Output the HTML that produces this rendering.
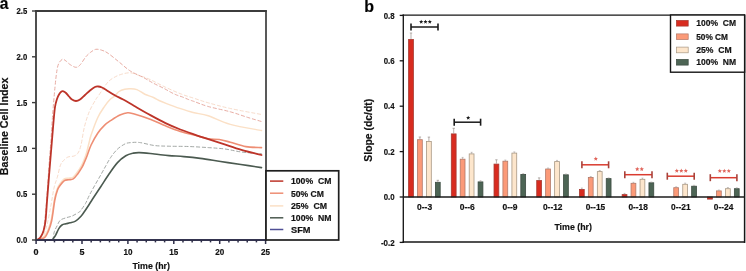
<!DOCTYPE html>
<html><head><meta charset="utf-8"><style>
html,body{margin:0;padding:0;background:#fff;}
body{width:746px;height:271px;overflow:hidden;}
svg{display:block;font-family:"Liberation Sans", sans-serif;will-change:transform;}
text{stroke:#111;stroke-width:0.18px;paint-order:stroke;}
</style></head><body>
<svg width="746" height="271" viewBox="0 0 746 271">
<rect width="746" height="271" fill="#fff"/>
<path d="M42.00,240.00 C42.83,237.50 45.50,230.83 47.00,225.00 C48.50,219.17 49.83,211.17 51.00,205.00 C52.17,198.83 52.93,192.68 54.00,188.00 C55.07,183.32 56.32,180.73 57.40,176.90 C58.48,173.07 59.43,167.77 60.50,165.00 C61.57,162.23 62.55,161.63 63.80,160.30 C65.05,158.97 66.30,157.72 68.00,157.00 C69.70,156.28 72.33,156.67 74.00,156.00 C75.67,155.33 76.83,154.83 78.00,153.00 C79.17,151.17 79.93,149.33 81.00,145.00 C82.07,140.67 83.02,132.57 84.40,127.00 C85.78,121.43 87.45,116.10 89.30,111.60 C91.15,107.10 94.02,102.58 95.50,100.00 C96.98,97.42 96.95,97.93 98.20,96.10 C99.45,94.27 101.37,91.35 103.00,89.00 C104.63,86.65 106.17,83.92 108.00,82.00 C109.83,80.08 111.77,78.78 114.00,77.50 C116.23,76.22 118.68,75.08 121.40,74.30 C124.12,73.52 127.37,72.62 130.30,72.80 C133.23,72.98 135.72,74.28 139.00,75.40 C142.28,76.52 145.67,77.57 150.00,79.50 C154.33,81.43 159.77,84.57 165.00,87.00 C170.23,89.43 176.50,92.20 181.40,94.10 C186.30,96.00 189.93,96.95 194.40,98.40 C198.87,99.85 202.22,101.12 208.20,102.80 C214.18,104.48 221.42,106.55 230.30,108.50 C239.18,110.45 256.30,113.50 261.50,114.50" fill="none" stroke="#f8dccb" stroke-width="1.00" stroke-linejoin="round" stroke-linecap="round" stroke-dasharray="3.2,2.6" />
<path d="M40.00,240.00 C40.50,238.67 42.17,235.67 43.00,232.00 C43.83,228.33 44.33,224.17 45.00,218.00 C45.67,211.83 46.27,204.67 47.00,195.00 C47.73,185.33 48.73,169.17 49.40,160.00 C50.07,150.83 50.47,147.50 51.00,140.00 C51.53,132.50 51.93,123.83 52.60,115.00 C53.27,106.17 54.27,94.50 55.00,87.00 C55.73,79.50 56.33,74.00 57.00,70.00 C57.67,66.00 58.08,64.78 59.00,63.00 C59.92,61.22 61.33,59.63 62.50,59.30 C63.67,58.97 64.75,60.13 66.00,61.00 C67.25,61.87 68.37,63.45 70.00,64.50 C71.63,65.55 74.13,67.22 75.80,67.30 C77.47,67.38 78.30,66.78 80.00,65.00 C81.70,63.22 84.17,58.77 86.00,56.60 C87.83,54.43 89.33,53.22 91.00,52.00 C92.67,50.78 94.17,49.58 96.00,49.30 C97.83,49.02 99.98,49.63 102.00,50.30 C104.02,50.97 105.23,51.33 108.10,53.30 C110.97,55.27 115.50,59.15 119.20,62.10 C122.90,65.05 126.23,68.42 130.30,71.00 C134.37,73.58 139.82,75.60 143.60,77.60 C147.38,79.60 149.55,81.17 153.00,83.00 C156.45,84.83 161.32,87.05 164.30,88.60 C167.28,90.15 168.85,91.23 170.90,92.30 C172.95,93.37 174.72,94.23 176.60,95.00 C178.48,95.77 180.18,96.13 182.20,96.90 C184.22,97.67 186.67,98.82 188.70,99.60 C190.73,100.38 191.15,100.45 194.40,101.60 C197.65,102.75 202.22,104.80 208.20,106.50 C214.18,108.20 223.67,109.97 230.30,111.80 C236.93,113.63 242.80,115.88 248.00,117.50 C253.20,119.12 259.25,120.83 261.50,121.50" fill="none" stroke="#e8aca3" stroke-width="1.00" stroke-linejoin="round" stroke-linecap="round" stroke-dasharray="3.2,2.6" />
<path d="M53.00,240.00 C53.20,238.70 53.53,234.53 54.20,232.20 C54.87,229.87 56.00,227.98 57.00,226.00 C58.00,224.02 58.70,221.67 60.20,220.30 C61.70,218.93 64.00,218.52 66.00,217.80 C68.00,217.08 70.07,216.92 72.20,216.00 C74.33,215.08 77.45,213.13 78.80,212.30 C80.15,211.47 79.18,212.47 80.30,211.00 C81.42,209.53 83.97,206.17 85.50,203.50 C87.03,200.83 87.92,198.08 89.50,195.00 C91.08,191.92 93.08,188.42 95.00,185.00 C96.92,181.58 99.17,177.75 101.00,174.50 C102.83,171.25 104.33,168.42 106.00,165.50 C107.67,162.58 109.10,159.72 111.00,157.00 C112.90,154.28 115.10,151.37 117.40,149.20 C119.70,147.03 122.70,145.08 124.80,144.00 C126.90,142.92 127.55,142.95 130.00,142.70 C132.45,142.45 135.45,142.03 139.50,142.50 C143.55,142.97 149.38,144.88 154.30,145.50 C159.22,146.12 163.35,146.03 169.00,146.20 C174.65,146.37 181.67,146.27 188.20,146.50 C194.73,146.73 202.07,147.18 208.20,147.60 C214.33,148.02 219.47,148.27 225.00,149.00 C230.53,149.73 235.32,151.20 241.40,152.00 C247.48,152.80 258.15,153.50 261.50,153.80" fill="none" stroke="#a3a8a5" stroke-width="1.00" stroke-linejoin="round" stroke-linecap="round" stroke-dasharray="3.2,2.6" />
<path d="M37.00,240.00 C37.67,239.75 39.75,239.17 41.00,238.50 C42.25,237.83 43.33,237.42 44.50,236.00 C45.67,234.58 46.87,232.75 48.00,230.00 C49.13,227.25 50.22,224.67 51.30,219.50 C52.38,214.33 53.52,204.08 54.50,199.00 C55.48,193.92 56.32,191.50 57.20,189.00 C58.08,186.50 58.63,185.67 59.80,184.00 C60.97,182.33 62.73,179.97 64.20,179.00 C65.67,178.03 67.13,178.48 68.60,178.20 C70.07,177.92 71.57,178.28 73.00,177.30 C74.43,176.32 75.78,174.25 77.20,172.30 C78.62,170.35 80.37,167.65 81.50,165.60 C82.63,163.55 83.17,162.10 84.00,160.00 C84.83,157.90 85.67,155.83 86.50,153.00 C87.33,150.17 88.23,146.00 89.00,143.00 C89.77,140.00 89.65,139.22 91.10,135.00 C92.55,130.78 95.48,122.43 97.70,117.70 C99.92,112.97 102.35,109.63 104.40,106.60 C106.45,103.57 108.27,101.27 110.00,99.50 C111.73,97.73 113.30,97.33 114.80,96.00 C116.30,94.67 117.35,92.63 119.00,91.50 C120.65,90.37 122.90,89.67 124.70,89.20 C126.50,88.73 127.77,88.63 129.80,88.70 C131.83,88.77 134.40,88.68 136.90,89.60 C139.40,90.52 142.03,92.88 144.80,94.20 C147.57,95.52 151.13,96.45 153.50,97.50 C155.87,98.55 156.82,99.48 159.00,100.50 C161.18,101.52 163.13,102.28 166.60,103.60 C170.07,104.92 175.38,106.92 179.80,108.40 C184.22,109.88 188.37,111.27 193.10,112.50 C197.83,113.73 202.00,113.82 208.20,115.80 C214.40,117.78 221.42,121.95 230.30,124.40 C239.18,126.85 256.30,129.48 261.50,130.50" fill="none" stroke="#fbe0c6" stroke-width="1.50" stroke-linejoin="round" stroke-linecap="round" />
<path d="M37.00,240.00 C37.67,239.83 39.72,239.42 41.00,239.00 C42.28,238.58 43.53,238.67 44.70,237.50 C45.87,236.33 46.85,234.75 48.00,232.00 C49.15,229.25 50.47,226.33 51.60,221.00 C52.73,215.67 53.82,205.17 54.80,200.00 C55.78,194.83 56.63,192.42 57.50,190.00 C58.37,187.58 58.85,187.07 60.00,185.50 C61.15,183.93 62.93,181.57 64.40,180.60 C65.87,179.63 67.32,179.98 68.80,179.70 C70.28,179.42 71.82,179.87 73.30,178.90 C74.78,177.93 76.23,175.85 77.70,173.90 C79.17,171.95 80.97,169.18 82.10,167.20 C83.23,165.22 83.68,163.87 84.50,162.00 C85.32,160.13 85.90,158.83 87.00,156.00 C88.10,153.17 89.32,148.80 91.10,145.00 C92.88,141.20 95.48,136.48 97.70,133.20 C99.92,129.92 102.18,127.43 104.40,125.30 C106.62,123.17 108.42,122.12 111.00,120.40 C113.58,118.68 117.12,116.28 119.90,115.00 C122.68,113.72 125.30,112.87 127.70,112.70 C130.10,112.53 130.45,112.88 134.30,114.00 C138.15,115.12 145.60,117.43 150.80,119.40 C156.00,121.37 160.58,123.80 165.50,125.80 C170.42,127.80 175.22,129.78 180.30,131.40 C185.38,133.02 191.35,134.27 196.00,135.50 C200.65,136.73 204.32,138.13 208.20,138.80 C212.08,139.47 215.62,138.93 219.30,139.50 C222.98,140.07 225.87,141.02 230.30,142.20 C234.73,143.38 240.70,145.70 245.90,146.60 C251.10,147.50 258.90,147.43 261.50,147.60" fill="none" stroke="#ee8e74" stroke-width="1.60" stroke-linejoin="round" stroke-linecap="round" />
<path d="M52.00,240.00 C52.22,239.77 52.67,239.47 53.30,238.60 C53.93,237.73 54.88,236.47 55.80,234.80 C56.72,233.13 57.77,230.23 58.80,228.60 C59.83,226.97 60.80,225.80 62.00,225.00 C63.20,224.20 64.67,224.17 66.00,223.80 C67.33,223.43 68.42,223.25 70.00,222.80 C71.58,222.35 73.67,222.20 75.50,221.10 C77.33,220.00 79.50,217.80 81.00,216.20 C82.50,214.60 83.25,213.28 84.50,211.50 C85.75,209.72 87.15,207.58 88.50,205.50 C89.85,203.42 90.53,202.17 92.60,199.00 C94.67,195.83 98.13,190.70 100.90,186.50 C103.67,182.30 106.43,177.78 109.20,173.80 C111.97,169.82 114.73,165.60 117.50,162.60 C120.27,159.60 123.22,157.37 125.80,155.80 C128.38,154.23 130.72,153.73 133.00,153.20 C135.28,152.67 135.95,152.47 139.50,152.60 C143.05,152.73 149.38,153.50 154.30,154.00 C159.22,154.50 164.08,155.17 169.00,155.60 C173.92,156.03 178.58,156.13 183.80,156.60 C189.02,157.07 194.17,157.58 200.30,158.40 C206.43,159.22 213.83,160.48 220.60,161.50 C227.37,162.52 234.08,163.48 240.90,164.50 C247.72,165.52 258.07,167.08 261.50,167.60" fill="none" stroke="#4b5a50" stroke-width="1.60" stroke-linejoin="round" stroke-linecap="round" />
<path d="M37.50,239.50 C37.97,239.17 39.30,238.92 40.30,237.50 C41.30,236.08 42.63,233.75 43.50,231.00 C44.37,228.25 44.90,226.17 45.50,221.00 C46.10,215.83 46.43,208.50 47.10,200.00 C47.77,191.50 48.68,180.00 49.50,170.00 C50.32,160.00 51.33,148.00 52.00,140.00 C52.67,132.00 53.00,127.47 53.50,122.00 C54.00,116.53 54.42,111.03 55.00,107.20 C55.58,103.37 56.33,101.12 57.00,99.00 C57.67,96.88 58.25,95.75 59.00,94.50 C59.75,93.25 60.75,92.02 61.50,91.50 C62.25,90.98 62.75,91.15 63.50,91.40 C64.25,91.65 65.08,92.15 66.00,93.00 C66.92,93.85 68.00,95.42 69.00,96.50 C70.00,97.58 70.83,98.75 72.00,99.50 C73.17,100.25 74.67,101.00 76.00,101.00 C77.33,101.00 78.50,100.50 80.00,99.50 C81.50,98.50 83.33,96.50 85.00,95.00 C86.67,93.50 88.35,91.83 90.00,90.50 C91.65,89.17 93.53,87.67 94.90,87.00 C96.27,86.33 97.02,86.42 98.20,86.50 C99.38,86.58 100.72,86.95 102.00,87.50 C103.28,88.05 103.77,88.50 105.90,89.80 C108.03,91.10 111.92,93.68 114.80,95.30 C117.68,96.92 119.95,97.72 123.20,99.50 C126.45,101.28 129.70,103.35 134.30,106.00 C138.90,108.65 145.60,112.55 150.80,115.40 C156.00,118.25 160.58,120.75 165.50,123.10 C170.42,125.45 175.22,127.50 180.30,129.50 C185.38,131.50 192.10,133.73 196.00,135.10 C199.90,136.47 199.45,136.33 203.70,137.70 C207.95,139.07 215.22,141.27 221.50,143.30 C227.78,145.33 234.73,147.95 241.40,149.90 C248.07,151.85 258.15,154.15 261.50,155.00" fill="none" stroke="#bd3429" stroke-width="1.80" stroke-linejoin="round" stroke-linecap="round" />
<line x1="36.00" y1="240.00" x2="266.00" y2="240.00" stroke="#34344f" stroke-width="2.00" />
<line x1="36.00" y1="10.20" x2="36.00" y2="240.80" stroke="#3c3c3c" stroke-width="1.80" />
<line x1="35.20" y1="11.00" x2="266.80" y2="11.00" stroke="#3c3c3c" stroke-width="1.80" />
<line x1="266.00" y1="10.20" x2="266.00" y2="240.80" stroke="#3c3c3c" stroke-width="1.70" />
<line x1="32.00" y1="240.00" x2="36.00" y2="240.00" stroke="#3c3c3c" stroke-width="1.40" />
<text x="27.30" y="243.10" font-size="9.40" font-weight="bold" fill="#111" text-anchor="end" textLength="10.70" lengthAdjust="spacingAndGlyphs" >0.0</text>
<line x1="32.00" y1="194.20" x2="36.00" y2="194.20" stroke="#3c3c3c" stroke-width="1.40" />
<text x="27.30" y="197.30" font-size="9.40" font-weight="bold" fill="#111" text-anchor="end" textLength="10.70" lengthAdjust="spacingAndGlyphs" >0.5</text>
<line x1="32.00" y1="148.40" x2="36.00" y2="148.40" stroke="#3c3c3c" stroke-width="1.40" />
<text x="27.30" y="151.50" font-size="9.40" font-weight="bold" fill="#111" text-anchor="end" textLength="10.70" lengthAdjust="spacingAndGlyphs" >1.0</text>
<line x1="32.00" y1="102.60" x2="36.00" y2="102.60" stroke="#3c3c3c" stroke-width="1.40" />
<text x="27.30" y="105.70" font-size="9.40" font-weight="bold" fill="#111" text-anchor="end" textLength="10.70" lengthAdjust="spacingAndGlyphs" >1.5</text>
<line x1="32.00" y1="56.80" x2="36.00" y2="56.80" stroke="#3c3c3c" stroke-width="1.40" />
<text x="27.30" y="59.90" font-size="9.40" font-weight="bold" fill="#111" text-anchor="end" textLength="10.70" lengthAdjust="spacingAndGlyphs" >2.0</text>
<line x1="32.00" y1="11.00" x2="36.00" y2="11.00" stroke="#3c3c3c" stroke-width="1.40" />
<text x="27.30" y="14.10" font-size="9.40" font-weight="bold" fill="#111" text-anchor="end" textLength="10.70" lengthAdjust="spacingAndGlyphs" >2.5</text>
<line x1="36.10" y1="240.00" x2="36.10" y2="244.00" stroke="#2e2e48" stroke-width="1.50" />
<line x1="45.28" y1="240.00" x2="45.28" y2="242.40" stroke="#2e2e48" stroke-width="1.50" />
<line x1="54.46" y1="240.00" x2="54.46" y2="242.40" stroke="#2e2e48" stroke-width="1.50" />
<line x1="63.64" y1="240.00" x2="63.64" y2="242.40" stroke="#2e2e48" stroke-width="1.50" />
<line x1="72.82" y1="240.00" x2="72.82" y2="242.40" stroke="#2e2e48" stroke-width="1.50" />
<line x1="82.00" y1="240.00" x2="82.00" y2="244.00" stroke="#2e2e48" stroke-width="1.50" />
<line x1="91.18" y1="240.00" x2="91.18" y2="242.40" stroke="#2e2e48" stroke-width="1.50" />
<line x1="100.36" y1="240.00" x2="100.36" y2="242.40" stroke="#2e2e48" stroke-width="1.50" />
<line x1="109.54" y1="240.00" x2="109.54" y2="242.40" stroke="#2e2e48" stroke-width="1.50" />
<line x1="118.72" y1="240.00" x2="118.72" y2="242.40" stroke="#2e2e48" stroke-width="1.50" />
<line x1="127.90" y1="240.00" x2="127.90" y2="244.00" stroke="#2e2e48" stroke-width="1.50" />
<line x1="137.08" y1="240.00" x2="137.08" y2="242.40" stroke="#2e2e48" stroke-width="1.50" />
<line x1="146.26" y1="240.00" x2="146.26" y2="242.40" stroke="#2e2e48" stroke-width="1.50" />
<line x1="155.44" y1="240.00" x2="155.44" y2="242.40" stroke="#2e2e48" stroke-width="1.50" />
<line x1="164.62" y1="240.00" x2="164.62" y2="242.40" stroke="#2e2e48" stroke-width="1.50" />
<line x1="173.80" y1="240.00" x2="173.80" y2="244.00" stroke="#2e2e48" stroke-width="1.50" />
<line x1="182.98" y1="240.00" x2="182.98" y2="242.40" stroke="#2e2e48" stroke-width="1.50" />
<line x1="192.16" y1="240.00" x2="192.16" y2="242.40" stroke="#2e2e48" stroke-width="1.50" />
<line x1="201.34" y1="240.00" x2="201.34" y2="242.40" stroke="#2e2e48" stroke-width="1.50" />
<line x1="210.52" y1="240.00" x2="210.52" y2="242.40" stroke="#2e2e48" stroke-width="1.50" />
<line x1="219.70" y1="240.00" x2="219.70" y2="244.00" stroke="#2e2e48" stroke-width="1.50" />
<line x1="228.88" y1="240.00" x2="228.88" y2="242.40" stroke="#2e2e48" stroke-width="1.50" />
<line x1="238.06" y1="240.00" x2="238.06" y2="242.40" stroke="#2e2e48" stroke-width="1.50" />
<line x1="247.24" y1="240.00" x2="247.24" y2="242.40" stroke="#2e2e48" stroke-width="1.50" />
<line x1="256.42" y1="240.00" x2="256.42" y2="242.40" stroke="#2e2e48" stroke-width="1.50" />
<line x1="265.60" y1="240.00" x2="265.60" y2="244.00" stroke="#2e2e48" stroke-width="1.50" />
<text x="36.10" y="255.30" font-size="9.00" font-weight="bold" fill="#111" text-anchor="middle" >0</text>
<text x="82.00" y="255.30" font-size="9.00" font-weight="bold" fill="#111" text-anchor="middle" >5</text>
<text x="127.90" y="255.30" font-size="9.00" font-weight="bold" fill="#111" text-anchor="middle" textLength="9.00" lengthAdjust="spacingAndGlyphs" >10</text>
<text x="173.80" y="255.30" font-size="9.00" font-weight="bold" fill="#111" text-anchor="middle" textLength="9.00" lengthAdjust="spacingAndGlyphs" >15</text>
<text x="219.70" y="255.30" font-size="9.00" font-weight="bold" fill="#111" text-anchor="middle" textLength="9.00" lengthAdjust="spacingAndGlyphs" >20</text>
<text x="265.60" y="255.30" font-size="9.00" font-weight="bold" fill="#111" text-anchor="middle" textLength="9.00" lengthAdjust="spacingAndGlyphs" >25</text>
<text x="151.20" y="268.60" font-size="9.30" font-weight="bold" fill="#111" text-anchor="middle" textLength="37.60" lengthAdjust="spacingAndGlyphs" >Time (hr)</text>
<text transform="translate(8.1,126.4) rotate(-90)" x="0" y="0" font-size="10.3" font-weight="bold" fill="#111" text-anchor="middle" textLength="97.5" lengthAdjust="spacingAndGlyphs">Baseline Cell Index</text>
<text x="-0.20" y="8.50" font-size="15.60" font-weight="bold" fill="#000" >a</text>
<rect x="266.00" y="170.80" width="72.70" height="69.20" fill="#fff" stroke="#1e1e1e" stroke-width="1.70"/>
<line x1="270.00" y1="181.10" x2="283.30" y2="181.10" stroke="#bd3429" stroke-width="1.50" />
<text x="291.00" y="184.40" font-size="9.00" font-weight="bold" fill="#111" textLength="40.40" lengthAdjust="spacingAndGlyphs" >100%&#160;&#160;CM</text>
<line x1="270.00" y1="193.20" x2="283.30" y2="193.20" stroke="#ee8e74" stroke-width="1.50" />
<text x="291.00" y="196.50" font-size="9.00" font-weight="bold" fill="#111" textLength="33.00" lengthAdjust="spacingAndGlyphs" >50%&#160;CM</text>
<line x1="270.00" y1="205.90" x2="283.30" y2="205.90" stroke="#fbe0c6" stroke-width="1.50" />
<text x="291.00" y="209.30" font-size="9.00" font-weight="bold" fill="#111" textLength="36.00" lengthAdjust="spacingAndGlyphs" >25%&#160;&#160;CM</text>
<line x1="270.00" y1="217.80" x2="283.30" y2="217.80" stroke="#4b5a50" stroke-width="1.50" />
<text x="291.00" y="221.30" font-size="9.00" font-weight="bold" fill="#111" textLength="40.60" lengthAdjust="spacingAndGlyphs" >100%&#160;&#160;NM</text>
<line x1="270.00" y1="229.50" x2="283.30" y2="229.50" stroke="#4f4f95" stroke-width="1.50" />
<text x="291.00" y="232.70" font-size="9.00" font-weight="bold" fill="#111" textLength="19.50" lengthAdjust="spacingAndGlyphs" >SFM</text>
<line x1="403.30" y1="14.60" x2="403.30" y2="242.90" stroke="#161616" stroke-width="1.35" />
<line x1="402.60" y1="15.10" x2="745.00" y2="15.10" stroke="#161616" stroke-width="1.40" />
<line x1="744.60" y1="14.60" x2="744.60" y2="242.90" stroke="#161616" stroke-width="1.50" />
<line x1="402.60" y1="242.10" x2="745.00" y2="242.10" stroke="#161616" stroke-width="1.50" />
<rect x="408.60" y="39.40" width="4.80" height="157.60" fill="#d82b1f" stroke="#a63a32" stroke-width="0.80"/>
<line x1="411.00" y1="39.00" x2="411.00" y2="33.00" stroke="#9a8f8a" stroke-width="0.70" />
<line x1="409.80" y1="33.00" x2="412.20" y2="33.00" stroke="#9a8f8a" stroke-width="0.70" />
<rect x="417.50" y="139.70" width="4.80" height="57.30" fill="#fb9a78" stroke="#b27868" stroke-width="0.80"/>
<line x1="419.90" y1="139.30" x2="419.90" y2="137.00" stroke="#9a8f8a" stroke-width="0.70" />
<line x1="418.70" y1="137.00" x2="421.10" y2="137.00" stroke="#9a8f8a" stroke-width="0.70" />
<rect x="426.50" y="141.50" width="4.80" height="55.50" fill="#fde6cc" stroke="#a89884" stroke-width="0.80"/>
<line x1="428.90" y1="141.10" x2="428.90" y2="137.10" stroke="#9a8f8a" stroke-width="0.70" />
<line x1="427.70" y1="137.10" x2="430.10" y2="137.10" stroke="#9a8f8a" stroke-width="0.70" />
<rect x="435.40" y="182.30" width="4.80" height="14.70" fill="#4d6555" stroke="#3b4a40" stroke-width="0.80"/>
<line x1="437.80" y1="181.90" x2="437.80" y2="180.30" stroke="#9a8f8a" stroke-width="0.70" />
<line x1="436.60" y1="180.30" x2="439.00" y2="180.30" stroke="#9a8f8a" stroke-width="0.70" />
<rect x="451.31" y="133.90" width="4.80" height="63.10" fill="#d82b1f" stroke="#a63a32" stroke-width="0.80"/>
<line x1="453.71" y1="133.50" x2="453.71" y2="128.30" stroke="#9a8f8a" stroke-width="0.70" />
<line x1="452.51" y1="128.30" x2="454.91" y2="128.30" stroke="#9a8f8a" stroke-width="0.70" />
<rect x="460.21" y="159.20" width="4.80" height="37.80" fill="#fb9a78" stroke="#b27868" stroke-width="0.80"/>
<line x1="462.61" y1="158.80" x2="462.61" y2="157.40" stroke="#9a8f8a" stroke-width="0.70" />
<line x1="461.61" y1="157.40" x2="463.61" y2="157.40" stroke="#b0a8a4" stroke-width="0.60" />
<rect x="469.21" y="153.90" width="4.80" height="43.10" fill="#fde6cc" stroke="#a89884" stroke-width="0.80"/>
<line x1="471.61" y1="153.50" x2="471.61" y2="152.30" stroke="#9a8f8a" stroke-width="0.70" />
<line x1="470.61" y1="152.30" x2="472.61" y2="152.30" stroke="#b0a8a4" stroke-width="0.60" />
<rect x="478.11" y="181.90" width="4.80" height="15.10" fill="#4d6555" stroke="#3b4a40" stroke-width="0.80"/>
<line x1="480.51" y1="181.50" x2="480.51" y2="180.70" stroke="#9a8f8a" stroke-width="0.70" />
<line x1="479.51" y1="180.70" x2="481.51" y2="180.70" stroke="#b0a8a4" stroke-width="0.60" />
<rect x="494.02" y="164.10" width="4.80" height="32.90" fill="#d82b1f" stroke="#a63a32" stroke-width="0.80"/>
<line x1="496.42" y1="163.70" x2="496.42" y2="159.80" stroke="#9a8f8a" stroke-width="0.70" />
<line x1="495.22" y1="159.80" x2="497.62" y2="159.80" stroke="#9a8f8a" stroke-width="0.70" />
<rect x="502.92" y="161.20" width="4.80" height="35.80" fill="#fb9a78" stroke="#b27868" stroke-width="0.80"/>
<line x1="505.32" y1="160.80" x2="505.32" y2="160.00" stroke="#9a8f8a" stroke-width="0.70" />
<line x1="504.32" y1="160.00" x2="506.32" y2="160.00" stroke="#b0a8a4" stroke-width="0.60" />
<rect x="511.92" y="153.10" width="4.80" height="43.90" fill="#fde6cc" stroke="#a89884" stroke-width="0.80"/>
<line x1="514.32" y1="152.70" x2="514.32" y2="151.90" stroke="#9a8f8a" stroke-width="0.70" />
<line x1="513.32" y1="151.90" x2="515.32" y2="151.90" stroke="#b0a8a4" stroke-width="0.60" />
<rect x="520.82" y="174.40" width="4.80" height="22.60" fill="#4d6555" stroke="#3b4a40" stroke-width="0.80"/>
<line x1="523.22" y1="174.00" x2="523.22" y2="173.60" stroke="#9a8f8a" stroke-width="0.70" />
<line x1="522.22" y1="173.60" x2="524.22" y2="173.60" stroke="#b0a8a4" stroke-width="0.60" />
<rect x="536.73" y="180.50" width="4.80" height="16.50" fill="#d82b1f" stroke="#a63a32" stroke-width="0.80"/>
<line x1="539.13" y1="180.10" x2="539.13" y2="177.90" stroke="#9a8f8a" stroke-width="0.70" />
<line x1="537.93" y1="177.90" x2="540.33" y2="177.90" stroke="#9a8f8a" stroke-width="0.70" />
<rect x="545.63" y="169.00" width="4.80" height="28.00" fill="#fb9a78" stroke="#b27868" stroke-width="0.80"/>
<line x1="548.03" y1="168.60" x2="548.03" y2="168.00" stroke="#9a8f8a" stroke-width="0.70" />
<line x1="547.03" y1="168.00" x2="549.03" y2="168.00" stroke="#b0a8a4" stroke-width="0.60" />
<rect x="554.63" y="161.60" width="4.80" height="35.40" fill="#fde6cc" stroke="#a89884" stroke-width="0.80"/>
<line x1="557.03" y1="161.20" x2="557.03" y2="160.40" stroke="#9a8f8a" stroke-width="0.70" />
<line x1="556.03" y1="160.40" x2="558.03" y2="160.40" stroke="#b0a8a4" stroke-width="0.60" />
<rect x="563.53" y="174.80" width="4.80" height="22.20" fill="#4d6555" stroke="#3b4a40" stroke-width="0.80"/>
<line x1="565.93" y1="174.40" x2="565.93" y2="174.00" stroke="#9a8f8a" stroke-width="0.70" />
<line x1="564.93" y1="174.00" x2="566.93" y2="174.00" stroke="#b0a8a4" stroke-width="0.60" />
<rect x="579.44" y="189.40" width="4.80" height="7.60" fill="#d82b1f" stroke="#a63a32" stroke-width="0.80"/>
<line x1="581.84" y1="189.00" x2="581.84" y2="188.00" stroke="#9a8f8a" stroke-width="0.70" />
<line x1="580.84" y1="188.00" x2="582.84" y2="188.00" stroke="#b0a8a4" stroke-width="0.60" />
<rect x="588.34" y="177.50" width="4.80" height="19.50" fill="#fb9a78" stroke="#b27868" stroke-width="0.80"/>
<line x1="590.74" y1="177.10" x2="590.74" y2="176.50" stroke="#9a8f8a" stroke-width="0.70" />
<line x1="589.74" y1="176.50" x2="591.74" y2="176.50" stroke="#b0a8a4" stroke-width="0.60" />
<rect x="597.34" y="171.60" width="4.80" height="25.40" fill="#fde6cc" stroke="#a89884" stroke-width="0.80"/>
<line x1="599.74" y1="171.20" x2="599.74" y2="170.50" stroke="#9a8f8a" stroke-width="0.70" />
<line x1="598.74" y1="170.50" x2="600.74" y2="170.50" stroke="#b0a8a4" stroke-width="0.60" />
<rect x="606.24" y="178.60" width="4.80" height="18.40" fill="#4d6555" stroke="#3b4a40" stroke-width="0.80"/>
<line x1="608.64" y1="178.20" x2="608.64" y2="177.90" stroke="#9a8f8a" stroke-width="0.70" />
<line x1="607.64" y1="177.90" x2="609.64" y2="177.90" stroke="#b0a8a4" stroke-width="0.60" />
<rect x="622.15" y="194.60" width="4.80" height="2.40" fill="#d82b1f" stroke="#a63a32" stroke-width="0.80"/>
<line x1="624.55" y1="194.20" x2="624.55" y2="193.40" stroke="#9a8f8a" stroke-width="0.70" />
<line x1="623.55" y1="193.40" x2="625.55" y2="193.40" stroke="#b0a8a4" stroke-width="0.60" />
<rect x="631.05" y="183.30" width="4.80" height="13.70" fill="#fb9a78" stroke="#b27868" stroke-width="0.80"/>
<line x1="633.45" y1="182.90" x2="633.45" y2="182.30" stroke="#9a8f8a" stroke-width="0.70" />
<line x1="632.45" y1="182.30" x2="634.45" y2="182.30" stroke="#b0a8a4" stroke-width="0.60" />
<rect x="640.05" y="179.30" width="4.80" height="17.70" fill="#fde6cc" stroke="#a89884" stroke-width="0.80"/>
<line x1="642.45" y1="178.90" x2="642.45" y2="178.10" stroke="#9a8f8a" stroke-width="0.70" />
<line x1="641.45" y1="178.10" x2="643.45" y2="178.10" stroke="#b0a8a4" stroke-width="0.60" />
<rect x="648.95" y="182.80" width="4.80" height="14.20" fill="#4d6555" stroke="#3b4a40" stroke-width="0.80"/>
<line x1="651.35" y1="182.40" x2="651.35" y2="182.00" stroke="#9a8f8a" stroke-width="0.70" />
<line x1="650.35" y1="182.00" x2="652.35" y2="182.00" stroke="#b0a8a4" stroke-width="0.60" />
<rect x="664.86" y="197.00" width="4.80" height="0.00" fill="#d82b1f" stroke="#a63a32" stroke-width="0.80"/>
<rect x="673.76" y="187.70" width="4.80" height="9.30" fill="#fb9a78" stroke="#b27868" stroke-width="0.80"/>
<line x1="676.16" y1="187.30" x2="676.16" y2="186.80" stroke="#9a8f8a" stroke-width="0.70" />
<line x1="675.16" y1="186.80" x2="677.16" y2="186.80" stroke="#b0a8a4" stroke-width="0.60" />
<rect x="682.76" y="184.30" width="4.80" height="12.70" fill="#fde6cc" stroke="#a89884" stroke-width="0.80"/>
<line x1="685.16" y1="183.90" x2="685.16" y2="183.10" stroke="#9a8f8a" stroke-width="0.70" />
<line x1="684.16" y1="183.10" x2="686.16" y2="183.10" stroke="#b0a8a4" stroke-width="0.60" />
<rect x="691.66" y="186.20" width="4.80" height="10.80" fill="#4d6555" stroke="#3b4a40" stroke-width="0.80"/>
<line x1="694.06" y1="185.80" x2="694.06" y2="185.30" stroke="#9a8f8a" stroke-width="0.70" />
<line x1="693.06" y1="185.30" x2="695.06" y2="185.30" stroke="#b0a8a4" stroke-width="0.60" />
<rect x="707.57" y="197.00" width="4.80" height="2.10" fill="#d82b1f" stroke="#a63a32" stroke-width="0.80"/>
<rect x="716.47" y="190.90" width="4.80" height="6.10" fill="#fb9a78" stroke="#b27868" stroke-width="0.80"/>
<line x1="718.87" y1="190.50" x2="718.87" y2="190.00" stroke="#9a8f8a" stroke-width="0.70" />
<line x1="717.87" y1="190.00" x2="719.87" y2="190.00" stroke="#b0a8a4" stroke-width="0.60" />
<rect x="725.47" y="188.70" width="4.80" height="8.30" fill="#fde6cc" stroke="#a89884" stroke-width="0.80"/>
<line x1="727.87" y1="188.30" x2="727.87" y2="187.50" stroke="#9a8f8a" stroke-width="0.70" />
<line x1="726.87" y1="187.50" x2="728.87" y2="187.50" stroke="#b0a8a4" stroke-width="0.60" />
<rect x="734.37" y="188.70" width="4.80" height="8.30" fill="#4d6555" stroke="#3b4a40" stroke-width="0.80"/>
<line x1="736.77" y1="188.30" x2="736.77" y2="187.80" stroke="#9a8f8a" stroke-width="0.70" />
<line x1="735.77" y1="187.80" x2="737.77" y2="187.80" stroke="#b0a8a4" stroke-width="0.60" />
<line x1="403.00" y1="197.00" x2="744.60" y2="197.00" stroke="#1c1c1c" stroke-width="1.50" />
<line x1="399.70" y1="242.40" x2="403.30" y2="242.40" stroke="#161616" stroke-width="1.30" />
<text x="394.60" y="245.50" font-size="9.20" font-weight="bold" fill="#111" text-anchor="end" textLength="13.70" lengthAdjust="spacingAndGlyphs" >-0.2</text>
<line x1="399.70" y1="197.00" x2="403.30" y2="197.00" stroke="#161616" stroke-width="1.30" />
<text x="394.60" y="200.10" font-size="9.20" font-weight="bold" fill="#111" text-anchor="end" textLength="10.90" lengthAdjust="spacingAndGlyphs" >0.0</text>
<line x1="399.70" y1="151.60" x2="403.30" y2="151.60" stroke="#161616" stroke-width="1.30" />
<text x="394.60" y="154.70" font-size="9.20" font-weight="bold" fill="#111" text-anchor="end" textLength="10.90" lengthAdjust="spacingAndGlyphs" >0.2</text>
<line x1="399.70" y1="106.20" x2="403.30" y2="106.20" stroke="#161616" stroke-width="1.30" />
<text x="394.60" y="109.30" font-size="9.20" font-weight="bold" fill="#111" text-anchor="end" textLength="10.90" lengthAdjust="spacingAndGlyphs" >0.4</text>
<line x1="399.70" y1="60.80" x2="403.30" y2="60.80" stroke="#161616" stroke-width="1.30" />
<text x="394.60" y="63.90" font-size="9.20" font-weight="bold" fill="#111" text-anchor="end" textLength="10.90" lengthAdjust="spacingAndGlyphs" >0.6</text>
<line x1="399.70" y1="15.40" x2="403.30" y2="15.40" stroke="#161616" stroke-width="1.30" />
<text x="394.60" y="18.50" font-size="9.20" font-weight="bold" fill="#111" text-anchor="end" textLength="10.90" lengthAdjust="spacingAndGlyphs" >0.8</text>
<text x="424.60" y="210.30" font-size="8.80" font-weight="bold" fill="#111" text-anchor="middle" textLength="15.10" lengthAdjust="spacingAndGlyphs" >0--3</text>
<text x="467.31" y="210.30" font-size="8.80" font-weight="bold" fill="#111" text-anchor="middle" textLength="15.10" lengthAdjust="spacingAndGlyphs" >0--6</text>
<text x="510.02" y="210.30" font-size="8.80" font-weight="bold" fill="#111" text-anchor="middle" textLength="15.10" lengthAdjust="spacingAndGlyphs" >0--9</text>
<text x="552.73" y="210.30" font-size="8.80" font-weight="bold" fill="#111" text-anchor="middle" textLength="19.50" lengthAdjust="spacingAndGlyphs" >0--12</text>
<text x="595.44" y="210.30" font-size="8.80" font-weight="bold" fill="#111" text-anchor="middle" textLength="19.50" lengthAdjust="spacingAndGlyphs" >0--15</text>
<text x="638.15" y="210.30" font-size="8.80" font-weight="bold" fill="#111" text-anchor="middle" textLength="19.50" lengthAdjust="spacingAndGlyphs" >0--18</text>
<text x="680.86" y="210.30" font-size="8.80" font-weight="bold" fill="#111" text-anchor="middle" textLength="19.50" lengthAdjust="spacingAndGlyphs" >0--21</text>
<text x="723.57" y="210.30" font-size="8.80" font-weight="bold" fill="#111" text-anchor="middle" textLength="19.50" lengthAdjust="spacingAndGlyphs" >0--24</text>
<text x="573.20" y="229.60" font-size="9.60" font-weight="bold" fill="#111" text-anchor="middle" textLength="37.60" lengthAdjust="spacingAndGlyphs" >Time (hr)</text>
<text transform="translate(371.6,130.2) rotate(-90)" x="0" y="0" font-size="10.4" font-weight="bold" fill="#111" text-anchor="middle" textLength="62.9" lengthAdjust="spacingAndGlyphs">Slope (dc/dt)</text>
<text x="364.20" y="11.50" font-size="16.00" font-weight="bold" fill="#000" >b</text>
<line x1="411.00" y1="27.00" x2="438.00" y2="27.00" stroke="#1a1a1a" stroke-width="1.50" />
<line x1="411.00" y1="23.50" x2="411.00" y2="30.50" stroke="#1a1a1a" stroke-width="1.60" />
<line x1="438.00" y1="23.50" x2="438.00" y2="30.50" stroke="#1a1a1a" stroke-width="1.60" />
<polygon points="421.20,19.75 421.77,21.12 423.24,21.24 422.12,22.20 422.46,23.64 421.20,22.87 419.94,23.64 420.28,22.20 419.16,21.24 420.63,21.12" fill="#1a1a1a"/>
<polygon points="425.50,19.75 426.07,21.12 427.54,21.24 426.42,22.20 426.76,23.64 425.50,22.87 424.24,23.64 424.58,22.20 423.46,21.24 424.93,21.12" fill="#1a1a1a"/>
<polygon points="429.80,19.75 430.37,21.12 431.84,21.24 430.72,22.20 431.06,23.64 429.80,22.87 428.54,23.64 428.88,22.20 427.76,21.24 429.23,21.12" fill="#1a1a1a"/>
<line x1="454.20" y1="122.20" x2="480.60" y2="122.20" stroke="#1a1a1a" stroke-width="1.50" />
<line x1="454.20" y1="118.70" x2="454.20" y2="125.70" stroke="#1a1a1a" stroke-width="1.60" />
<line x1="480.60" y1="118.70" x2="480.60" y2="125.70" stroke="#1a1a1a" stroke-width="1.60" />
<polygon points="468.20,115.75 468.77,117.12 470.24,117.24 469.12,118.20 469.46,119.64 468.20,118.87 466.94,119.64 467.28,118.20 466.16,117.24 467.63,117.12" fill="#1a1a1a"/>
<line x1="581.90" y1="164.80" x2="608.60" y2="164.80" stroke="#da3b2f" stroke-width="1.50" />
<line x1="581.90" y1="161.30" x2="581.90" y2="168.30" stroke="#a9423a" stroke-width="1.60" />
<line x1="608.60" y1="161.30" x2="608.60" y2="168.30" stroke="#a9423a" stroke-width="1.60" />
<polygon points="595.80,156.50 596.41,157.96 597.99,158.09 596.78,159.12 597.15,160.66 595.80,159.84 594.45,160.66 594.82,159.12 593.61,158.09 595.19,157.96" fill="#e0645a"/>
<line x1="624.80" y1="174.70" x2="652.00" y2="174.70" stroke="#da3b2f" stroke-width="1.50" />
<line x1="624.80" y1="171.20" x2="624.80" y2="178.20" stroke="#a9423a" stroke-width="1.60" />
<line x1="652.00" y1="171.20" x2="652.00" y2="178.20" stroke="#a9423a" stroke-width="1.60" />
<polygon points="637.25,166.80 637.86,168.26 639.44,168.39 638.23,169.42 638.60,170.96 637.25,170.13 635.90,170.96 636.27,169.42 635.06,168.39 636.64,168.26" fill="#e0645a"/>
<polygon points="641.75,166.80 642.36,168.26 643.94,168.39 642.73,169.42 643.10,170.96 641.75,170.13 640.40,170.96 640.77,169.42 639.56,168.39 641.14,168.26" fill="#e0645a"/>
<line x1="667.30" y1="176.20" x2="694.20" y2="176.20" stroke="#da3b2f" stroke-width="1.50" />
<line x1="667.30" y1="172.70" x2="667.30" y2="179.70" stroke="#a9423a" stroke-width="1.60" />
<line x1="694.20" y1="172.70" x2="694.20" y2="179.70" stroke="#a9423a" stroke-width="1.60" />
<polygon points="676.80,168.50 677.41,169.96 678.99,170.09 677.78,171.12 678.15,172.66 676.80,171.84 675.45,172.66 675.82,171.12 674.61,170.09 676.19,169.96" fill="#e0645a"/>
<polygon points="681.30,168.50 681.91,169.96 683.49,170.09 682.28,171.12 682.65,172.66 681.30,171.84 679.95,172.66 680.32,171.12 679.11,170.09 680.69,169.96" fill="#e0645a"/>
<polygon points="685.80,168.50 686.41,169.96 687.99,170.09 686.78,171.12 687.15,172.66 685.80,171.84 684.45,172.66 684.82,171.12 683.61,170.09 685.19,169.96" fill="#e0645a"/>
<line x1="710.30" y1="177.70" x2="736.90" y2="177.70" stroke="#da3b2f" stroke-width="1.50" />
<line x1="710.30" y1="174.20" x2="710.30" y2="181.20" stroke="#a9423a" stroke-width="1.60" />
<line x1="736.90" y1="174.20" x2="736.90" y2="181.20" stroke="#a9423a" stroke-width="1.60" />
<polygon points="719.80,168.70 720.41,170.16 721.99,170.29 720.78,171.32 721.15,172.86 719.80,172.03 718.45,172.86 718.82,171.32 717.61,170.29 719.19,170.16" fill="#e0645a"/>
<polygon points="724.30,168.70 724.91,170.16 726.49,170.29 725.28,171.32 725.65,172.86 724.30,172.03 722.95,172.86 723.32,171.32 722.11,170.29 723.69,170.16" fill="#e0645a"/>
<polygon points="728.80,168.70 729.41,170.16 730.99,170.29 729.78,171.32 730.15,172.86 728.80,172.03 727.45,172.86 727.82,171.32 726.61,170.29 728.19,170.16" fill="#e0645a"/>
<rect x="670.50" y="15.00" width="74.10" height="57.20" fill="#fff" stroke="#161616" stroke-width="1.40"/>
<rect x="676.40" y="20.40" width="11.80" height="5.70" fill="#d82b1f" stroke="#a63a32" stroke-width="0.70"/>
<text x="696.20" y="26.00" font-size="9.20" font-weight="bold" fill="#111" textLength="39.80" lengthAdjust="spacingAndGlyphs" >100%&#160;&#160;CM</text>
<rect x="676.40" y="33.90" width="11.80" height="5.70" fill="#fb9a78" stroke="#b27868" stroke-width="0.70"/>
<text x="696.20" y="40.10" font-size="9.20" font-weight="bold" fill="#111" textLength="31.80" lengthAdjust="spacingAndGlyphs" >50%&#160;CM</text>
<rect x="676.40" y="47.10" width="11.80" height="5.70" fill="#fde6cc" stroke="#a89884" stroke-width="0.70"/>
<text x="696.20" y="52.90" font-size="9.20" font-weight="bold" fill="#111" textLength="35.50" lengthAdjust="spacingAndGlyphs" >25%&#160;&#160;CM</text>
<rect x="676.40" y="59.40" width="11.80" height="5.70" fill="#4d6555" stroke="#3b4a40" stroke-width="0.70"/>
<text x="696.20" y="64.80" font-size="9.20" font-weight="bold" fill="#111" textLength="40.00" lengthAdjust="spacingAndGlyphs" >100%&#160;&#160;NM</text>
</svg>
</body></html>
